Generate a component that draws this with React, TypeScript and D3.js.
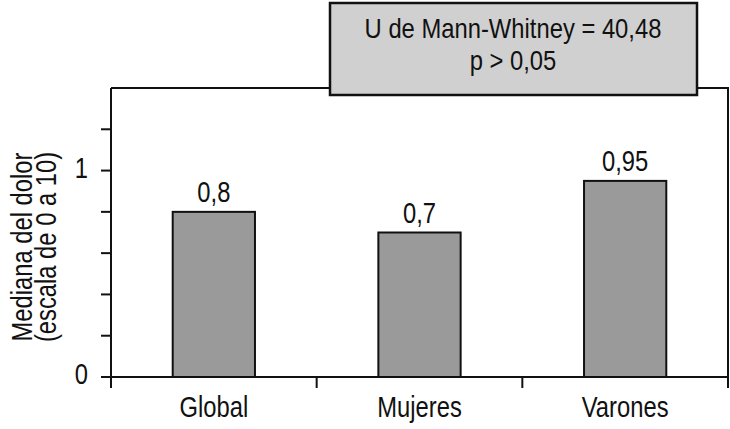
import * as d3 from "d3";

const W = 730;
const H = 429;

// chart values
const categories = ["Global", "Mujeres", "Varones"];
const medians = [0.8, 0.7, 0.95];
const valueLabels = ["0,8", "0,7", "0,95"];
const yTicks = [0, 0.2, 0.4, 0.6, 0.8, 1, 1.2];
const yTickLabels: Record<number, string> = { 0: "0", 1: "1" };
const yTitle = ["Mediana del dolor", "(escala de 0 a 10)"];
const statLines = ["U de Mann-Whitney = 40,48", "p > 0,05"];

const FONT = "'Liberation Sans', Arial, sans-serif";
const SQUEEZE = 0.82; // fake a condensed face, none installed
const FS = 29;

// text drawn narrower than the font, anchored at (x, y)
function NText({
  x,
  y,
  anchor = "middle",
  size = FS,
  squeeze = SQUEEZE,
  children,
}: {
  x: number;
  y: number;
  anchor?: string;
  size?: number;
  squeeze?: number;
  children: string;
}) {
  return (
    <g transform={`translate(${x},${y}) scale(${squeeze},1)`}>
      <text textAnchor={anchor} fontSize={size} fill="#111">
        {children}
      </text>
    </g>
  );
}

export default function App() {
  const left = 111;
  const right = 728;
  const top = 88;
  const bottom = 377;

  const x = d3.scaleBand<string>().domain(categories).range([left, right]).padding(0);
  const y = d3.scaleLinear().domain([0, 1.4]).range([bottom, top]);
  const barW = x.bandwidth() * 0.4;

  const bandEdges = [...categories.map((c) => x(c) as number), right];

  return (
    <svg
      width={W}
      height={H}
      style={{ position: "absolute", left: 0, top: 0, background: "#fff" }}
      fontFamily={FONT}
    >
      {/* frame: top and right lines */}
      <path d={`M${left},${top}H${right}V${bottom}`} fill="none" stroke="#111" strokeWidth={2} />

      {/* bars */}
      {categories.map((c, i) => {
        const cx = (x(c) as number) + x.bandwidth() / 2;
        return (
          <g key={c}>
            <rect
              x={cx - barW / 2}
              y={y(medians[i])}
              width={barW}
              height={y(0) - y(medians[i])}
              fill="#9a9a9a"
              stroke="#111"
              strokeWidth={2}
            />
            <NText x={cx} y={y(medians[i]) - 10}>{valueLabels[i]}</NText>
            <NText x={cx} y={417}>{c}</NText>
          </g>
        );
      })}

      {/* y axis */}
      <line x1={left} x2={left} y1={top} y2={bottom + 10} stroke="#111" strokeWidth={2} />
      {yTicks.map((t) => (
        <g key={t}>
          <line x1={left - 10} x2={left} y1={y(t)} y2={y(t)} stroke="#111" strokeWidth={2} />
          {yTickLabels[t] !== undefined && (
            <NText x={left - 23} y={y(t) + 7} anchor="end">
              {yTickLabels[t]}
            </NText>
          )}
        </g>
      ))}

      {/* x axis */}
      <line x1={left} x2={right} y1={bottom} y2={bottom} stroke="#111" strokeWidth={2} />
      {bandEdges.map((ex, i) => (
        <line key={i} x1={ex} x2={ex} y1={bottom} y2={bottom + 11} stroke="#111" strokeWidth={2} />
      ))}

      {/* y title, rotated */}
      <g transform="translate(0,247) rotate(-90)">
        <NText x={0} y={32}>{yTitle[0]}</NText>
        <NText x={0} y={56}>{yTitle[1]}</NText>
      </g>

      {/* statistics box */}
      <rect x={330} y={3} width={367} height={92} fill="#d0d0d0" stroke="#111" strokeWidth={2.5} />
      <NText x={513} y={38} size={28} squeeze={0.85}>{statLines[0]}</NText>
      <NText x={513} y={70} size={28} squeeze={0.85}>{statLines[1]}</NText>
    </svg>
  );
}
